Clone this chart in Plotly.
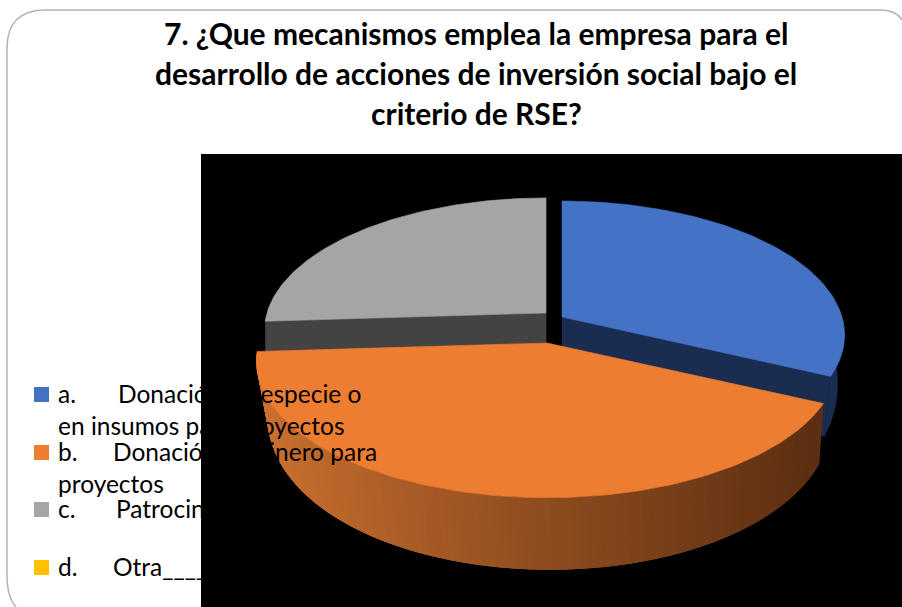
"""3D-looking pie of RSE social investment mechanisms, drawn on pixel-sized axes."""
import numpy as np
import plotly.graph_objects as go

# ── Data ──────────────────────────────────────────────────────────────────────
title_lines = [
    "7. ¿Que mecanismos emplea la empresa para el",
    "desarrollo de acciones de inversión social bajo el",
    "criterio de RSE?",
]
category_marks = ["a.", "b.", "c.", "d."]
category_names = ["Donación en especie o", "Donación en dinero para", "Patrocinios", "Otra____"]
category_second_lines = ["en insumos para proyectos", "proyectos", "", ""]
values = [32, 42, 26, 0]

# ── Design tokens ─────────────────────────────────────────────────────────────
_C = {"a": "#4472C4", "b": "#ED7D31", "c": "#A5A5A5", "d": "#FFC000",
      "a_side": "#1A2C50", "c_side": "#434343",
      "b_side_left": (204, 113, 48), "b_side_right": (92, 47, 18),
      "frame": "#B4B4B4", "text": "#000000"}
_TEXT_FONT = "Lato, Open Sans, sans-serif"

# projection of each exploded slice: centre, radii
_GEOM = {"a": (562, 317, 280, 131.5), "b": (547, 343, 288, 134), "c": (546, 313, 279, 130.5)}
_K = 0.134


def _rim(key, a0, a1, n=90):
    """Top rim points between two clockwise-from-north angles (degrees)."""
    cx, cy, rx, ry = _GEOM[key]
    t = np.radians(np.linspace(a0, a1, n))
    c, s = np.sin(t), -np.cos(t)
    w = 1 - _K * s
    return cx + rx * c / w, cy + ry * s / w, s


def _depth(s):
    return 31 + 41 * np.clip(s, 0, 1) ** 0.4


def _poly(x, y, color, width=0.6):
    return go.Scatter(
        x=list(x), y=list(y), mode="lines", fill="toself", fillcolor=color,
        line=dict(color=color, width=width), hoverinfo="skip", showlegend=False,
    )


def _lower(key, x, y, s, shift=0.0):
    cx = _GEOM[key][0]
    return cx + shift + (x - cx) * 0.975, y + _depth(s)


edges = 360 * np.cumsum([0] + values) / sum(values)
fig = go.Figure()

# gray slice
ang0, ang1 = edges[2], edges[3]
x, y, s = _rim("c", ang0, ang1)
cx, cy = _GEOM["c"][:2]
fig.add_trace(_poly([x[0], cx, cx, x[0]], [y[0], cy, cy + 30, y[0] + 31], _C["c_side"]))
fig.add_trace(_poly(np.r_[cx, x, cx], np.r_[cy, y, cy], _C["c"]))

# blue slice
ang0, ang1 = edges[0], edges[1]
x, y, s = _rim("a", ang0, ang1)
cx, cy = _GEOM["a"][:2]
xl, yl = _lower("a", x, y, s)
fig.add_trace(_poly([cx, x[-1], xl[-1], cx], [cy, y[-1], yl[-1], cy + 31], _C["a_side"]))
vis = s > -0.05
fig.add_trace(_poly(np.r_[x[vis], xl[vis][::-1]], np.r_[y[vis], yl[vis][::-1]], _C["a_side"]))
fig.add_trace(_poly(np.r_[cx, x, cx], np.r_[cy, y, cy], _C["a"]))

# orange slice: side wall shaded left to right, strips overlap to hide seams
ang0, ang1 = edges[1], edges[2]
x, y, s = _rim("b", ang0, ang1, n=121)
cx, cy = _GEOM["b"][:2]
xl, yl = _lower("b", x, y, s, shift=3)
left, right = np.array(_C["b_side_left"]), np.array(_C["b_side_right"])
for i in range(len(x) - 1):
    j = min(i + 3, len(x) - 1)
    f = np.clip((x[i] - 260) / (820 - 260), 0, 1) ** 0.9
    r, g, b = (left + (right - left) * f).astype(int)
    fig.add_trace(_poly(
        np.r_[x[i:j + 1], xl[i:j + 1][::-1]], np.r_[y[i:j + 1], yl[i:j + 1][::-1]],
        f"rgb({r},{g},{b})", width=0,
    ))
fig.add_trace(_poly(np.r_[cx, x, cx], np.r_[cy, y, cy], _C["b"]))

# ── Frame, black panel, legend swatches ───────────────────────────────────────
shapes = [
    dict(type="path", path="M 16,607 Q 7,597 7,575 L 7,48 Q 7,11 44,10 L 880,10 Q 896,10 902,20",
         line=dict(color=_C["frame"], width=1.5), fillcolor="rgba(0,0,0,0)", layer="below"),
    dict(type="rect", x0=201, x1=902, y0=154, y1=607, fillcolor="#000000", line_width=0, layer="below"),
]
swatches = [_C["a"], _C["b"], _C["c"], _C["d"]]
swatch_y = [387, 445, 502, 560]
for color, y0 in zip(swatches, swatch_y):
    shapes.append(dict(type="rect", x0=34, x1=49, y0=y0, y1=y0 + 15, fillcolor=color, line_width=0))

# ── Text ──────────────────────────────────────────────────────────────────────
annotations = []
for line, y0 in zip(title_lines, [33, 73, 113]):
    annotations.append(dict(
        x=476, y=y0, text=f"<b>{line}</b>", showarrow=False, xanchor="center", yanchor="middle",
        font=dict(family=_TEXT_FONT, size=30, color=_C["text"]),
    ))


def _legend_text(x0, y0, text):
    return dict(
        x=x0, y=y0, text=text, showarrow=False, xanchor="left", yanchor="middle",
        font=dict(family=_TEXT_FONT, size=24.5, color=_C["text"]),
    )


name_x = [116, 111, 114, 111]
for mark, name, second, x0, y0 in zip(category_marks, category_names, category_second_lines, name_x, swatch_y):
    annotations.append(_legend_text(55.5, y0 + 6, mark))
    annotations.append(_legend_text(x0, y0 + 6, name))
    if second:
        annotations.append(_legend_text(55.5, y0 + 38, second))

fig.update_layout(
    width=902,
    height=607,
    margin=dict(l=0, r=0, t=0, b=0),
    paper_bgcolor="#FFFFFF",
    plot_bgcolor="rgba(0,0,0,0)",
    showlegend=False,
    xaxis=dict(range=[0, 902], visible=False, fixedrange=True),
    yaxis=dict(range=[607, 0], visible=False, fixedrange=True),
    shapes=shapes,
    annotations=annotations,
)

fig.write_html(
    "out.html",
    config=dict(displayModeBar=False),
    post_script="document.body.style.margin='0';document.body.style.overflow='hidden';",
)
